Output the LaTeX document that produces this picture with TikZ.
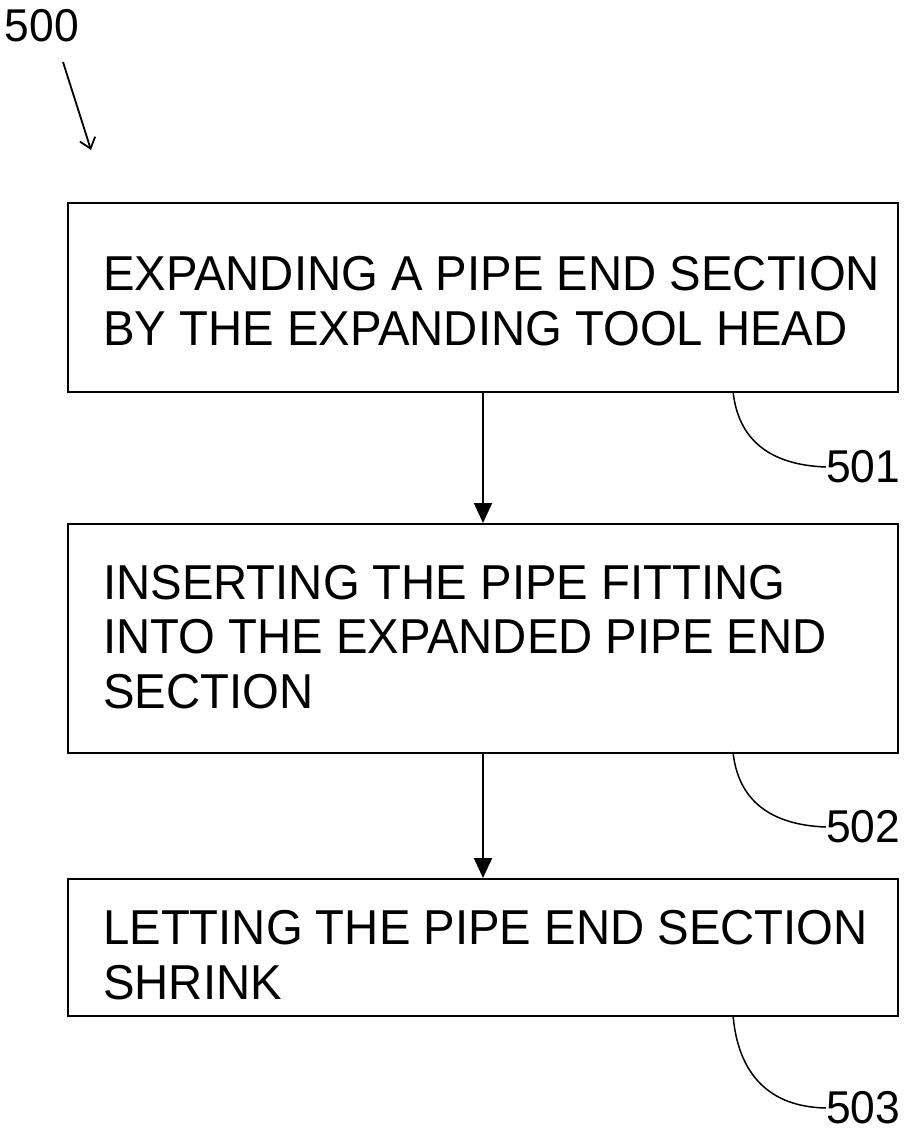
\documentclass[tikz,border=0pt]{standalone}
\usepackage{fontspec}
\setmainfont{Liberation Sans}[FakeStretch=0.965]
\usetikzlibrary{arrows.meta}
\begin{document}
\begin{tikzpicture}[x=1pt,y=-1pt,
  stepbox/.style={draw, line width=2.2pt, minimum width=830pt, inner sep=0pt, anchor=north west},
  steptext/.style={align=left, inner sep=0pt, anchor=west,
    font=\fontsize{49}{54.5}\selectfont},
  flow/.style={line width=2pt, -{Triangle[length=20pt,width=18pt]}},
  lbl/.style={font=\fontsize{46}{54}\selectfont, inner sep=0pt},
  leader/.style={line width=1.5pt}]
\useasboundingbox (0,0) rectangle (904,1133);
\node[stepbox, minimum height=189pt] (s1) at (67,202) {};
\node[stepbox, minimum height=229pt] (s2) at (67,523) {};
\node[stepbox, minimum height=137pt] (s3) at (67,878) {};
\node[steptext] (t1) at (103,301) {EXPANDING A PIPE END SECTION\\BY THE EXPANDING TOOL HEAD};
\node[steptext] (t2) at (103,637) {INSERTING THE PIPE FITTING\\INTO THE EXPANDED PIPE END\\SECTION};
\node[steptext] (t3) at (103,955) {LETTING THE PIPE END SECTION\\SHRINK};
\draw[flow] (s1.south -| 483,0) -- (s2.north -| 483,0);
\draw[flow] (s2.south -| 483,0) -- (s3.north -| 483,0);
\node[lbl] (l500) at (42,26) {500};
\node[lbl, anchor=west] (l501) at (826,467) {501};
\node[lbl, anchor=west] (l502) at (826,827) {502};
\node[lbl, anchor=west] (l503) at (826,1108) {503};
\coordinate (a500s) at (63,62);
\coordinate (a500e) at (91,150);
\draw[leader, line width=1.8pt, -{Straight Barb[length=10pt,width=16pt]}] (a500s) -- (a500e);
\coordinate (c1) at (733,391);
\coordinate (c2) at (733,752);
\coordinate (c3) at (733,1015);
\draw[leader] (c1) .. controls (738,440) and (770,465) .. (l501.west);
\draw[leader] (c2) .. controls (738,800) and (770,825) .. (l502.west);
\draw[leader] (c3) .. controls (738,1075) and (770,1107) .. (l503.west);
\end{tikzpicture}
\end{document}
